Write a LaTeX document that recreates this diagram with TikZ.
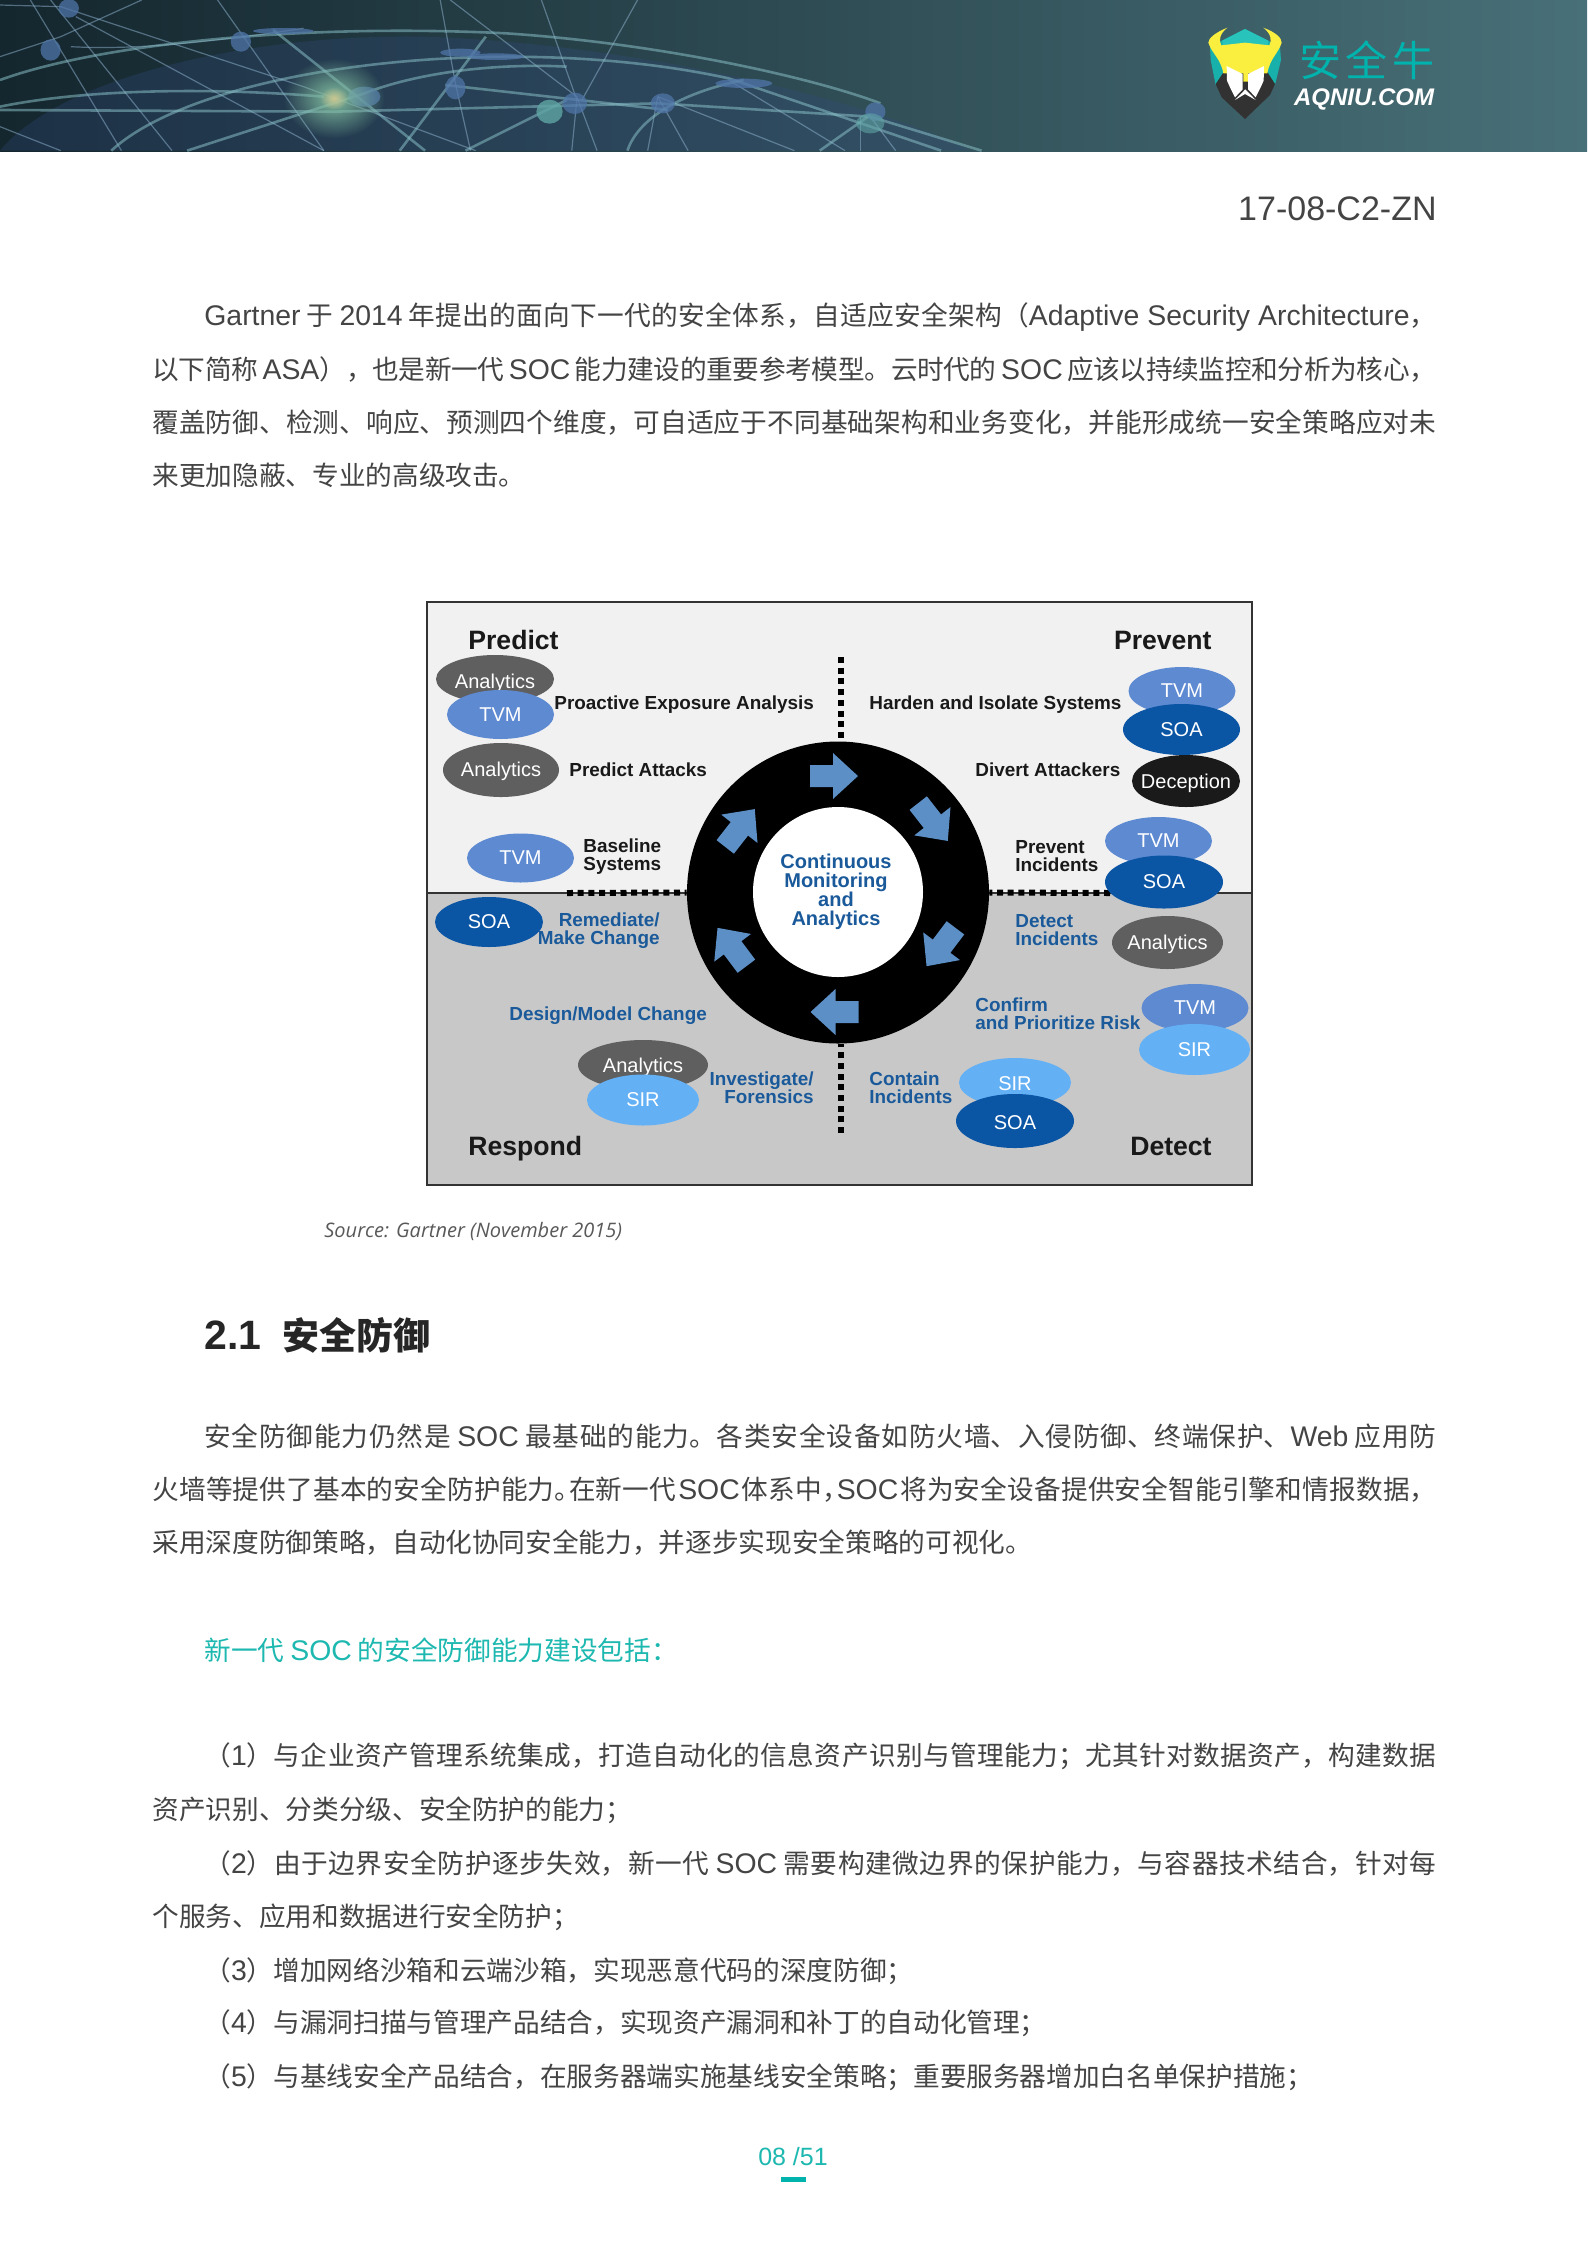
\documentclass[tikz,border=0pt]{standalone}
\usepackage{fontspec}
\usetikzlibrary{shapes.geometric,fadings}
\setmainfont{Liberation Sans}
\newfontfamily\cjk{Noto Sans CJK SC}
\newfontfamily\capfont{Open Sans}
\XeTeXlinebreaklocale "zh"
\XeTeXlinebreakskip=0pt plus 3pt minus 0.25pt\relax
\tikzfading[name=glowfade,inner color=transparent!0,outer color=transparent!100]
\definecolor{bodyc}{HTML}{444444}
\definecolor{tealc}{HTML}{1DB8B0}
\definecolor{logoteal}{HTML}{00B3AD}
\definecolor{cAna}{HTML}{5F5F5F}
\definecolor{cTvm}{HTML}{5E8AD2}
\definecolor{cSoa}{HTML}{0B55A5}
\definecolor{cSir}{HTML}{63B0F5}
\definecolor{cDec}{HTML}{1A1A1A}
\definecolor{lblue}{HTML}{1A5A9A}
\definecolor{cArrow}{HTML}{5B8FC6}
\definecolor{netc}{HTML}{8FB4D0}
\definecolor{netd}{HTML}{86BCC4}
\definecolor{netdotc}{HTML}{4F75A8}
\definecolor{banL}{HTML}{14262E}
\definecolor{banM}{HTML}{385064}
\definecolor{banR}{HTML}{487078}
\definecolor{dome}{HTML}{324B7D}
\definecolor{nodeT}{HTML}{5FA5A5}
\definecolor{glowA}{HTML}{82BEA0}
\definecolor{glowB}{HTML}{DCC88C}
\definecolor{lgA}{HTML}{18B0AA}
\definecolor{lgB}{HTML}{28C4BC}
\definecolor{lgC}{HTML}{323232}
\definecolor{lgD}{HTML}{FAEE3E}
\definecolor{upper}{HTML}{F1F1F1}
\definecolor{lower}{HTML}{C8C8C8}
\definecolor{frameC}{HTML}{333333}
\newcommand\la[1]{{\normalfont\fontsize{14.2pt}{20pt}\selectfont #1}}
\newcommand\lab[1]{{\normalfont\bfseries\fontsize{20.5pt}{22pt}\selectfont #1}}
\newcommand\zhc{^^^^ff0c}
\newcommand\zhs{^^^^ff1b}
\newcommand\zhl{^^^^ff08}
\newcommand\zhr{^^^^ff09}
\newcommand\zhk{^^^^ff1a}
\tikzset{
  bodyline/.style={anchor=base west,inner sep=0pt,text=bodyc,font=\fontsize{13.33pt}{20pt}\selectfont\cjk},
  bub/.style={ellipse,inner sep=0pt},
  bubtxt/.style={inner sep=0pt,text=white,font=\fontsize{10pt}{10pt}\selectfont},
  blk/.style={anchor=west,inner sep=0pt,align=left,text=black!90,font=\fontsize{9.45pt}{9pt}\selectfont\bfseries},
  blu/.style={anchor=west,inner sep=0pt,align=left,text=lblue,font=\fontsize{9.45pt}{9pt}\selectfont\bfseries},
  ttl/.style={anchor=west,inner sep=0pt,text=black!90,font=\fontsize{13.3pt}{14pt}\selectfont\bfseries},
  dotline/.style={line width=3pt,dash pattern=on 3pt off 2.35pt,black},
  ringarrow/.style={fill=cArrow},
  netl/.style={draw=netc,opacity=.5,line width=.6pt},
  netb/.style={draw=netd,opacity=.55,line width=1.3pt},
  netdot/.style={fill=netdotc,opacity=.75}
}
\newcommand\jline[5]{\node[bodyline] (#1) at (#2,#3) {\parbox[b]{\dimexpr #4pt/2\relax}{\parindent=0pt\parfillskip=0pt\rightskip=0pt\leftskip=0pt\emergencystretch=20pt\noindent #5}};}
\newcommand\tline[4]{\node[bodyline] (#1) at (#2,#3) {#4};}
\newcommand\bub[8][0pt]{\node[bub,fill=#7,minimum width=#5pt,minimum height=#6pt,label={[bubtxt,yshift=#1]center:{#8}}] (#2) at (#3,#4) {};}
\newcommand\ringarr[3]{\fill[ringarrow,shift={(#1,#2)},rotate=#3] (-24,-11) -- (-1,-11) -- (-1,-23) -- (24,0) -- (-1,23) -- (-1,11) -- (-24,11) -- cycle;}
\begin{document}
\begin{tikzpicture}[x=0.5pt,y=-0.5pt]
\useasboundingbox (0,0) rectangle (1587,2245);
\fill[white] (0,0) rectangle (1587,2245);
% ---------- banner
\shade[left color=banL,middle color=banM,right color=banR] (0,0) rectangle (1587,151);
\begin{scope}
\clip (0,0) rectangle (1587,151);
\begin{scope}[xscale=1.012,yscale=0.3333]
\fill[dome,opacity=.3] (0,452) .. controls (60,230) and (250,100) .. (420,110) .. controls (620,130) and (850,290) .. (960,452) -- cycle;
\draw[netl] (50,0) -- (170,452);
\draw[netl] (75,50) -- (320,452);
\draw[netl] (0,15) -- (60,20) -- (300,260) -- (470,452);
\draw[netl] (215,0) -- (320,452);
\draw[netl] (435,0) -- (450,250) -- (465,452);
\draw[netl] (445,0) -- (570,290) -- (590,452);
\draw[netl] (535,0) -- (570,300) -- (565,452);
\draw[netl] (630,0) -- (575,300);
\draw[netl] (140,0) -- (60,110) -- (0,170);
\draw[netl] (30,0) -- (120,452);
\draw[netl] (0,380) -- (60,452);
\draw[netl] (650,290) -- (640,452);
\draw[netl] (650,290) -- (680,452);
\draw[netl] (650,290) -- (785,452);
\draw[netl] (720,240) -- (835,452);
\draw[netl] (850,350) -- (850,452);
\draw[netl] (860,350) -- (885,452);
\draw[netl] (70,140) .. controls (130,150) and (200,130) .. (300,85);
\draw[netb] (480,110) -- (395,452);
\draw[netb] (270,90) -- (420,452);
\draw[netb] (0,330) -- (330,335) -- (650,310) -- (860,350) -- (970,452);
\draw[netb] (0,320) .. controls (80,270) and (200,260) .. (320,290);
\draw[netb] (0,240) .. controls (100,130) and (300,70) .. (500,100) .. controls (650,130) and (800,230) .. (870,310);
\draw[netb] (110,452) .. controls (200,200) and (500,90) .. (720,235) -- (930,452);
\draw[netb] (620,452) .. controls (630,360) and (670,280) .. (735,240);
\draw[netb] (185,452) -- (360,280) .. controls (420,210) and (500,190) .. (560,200);
\draw[netb] (460,452) -- (560,300);
\draw[netb] (810,452) -- (860,345);
\draw[netb] (440,255) -- (660,330);
\fill[netdot] (68,25) ellipse (10 and 28);
\fill[netdot] (50,150) ellipse (10 and 32);
\fill[netdot] (238,125) ellipse (10 and 30);
\fill[netdot] (455,158) ellipse (20 and 12);
\fill[netdot] (490,170) ellipse (28 and 10);
\fill[netdot] (280,93) ellipse (30 and 9);
\fill[netdot] (450,263) ellipse (10 and 35);
\fill[netdot] (568,310) ellipse (12 and 32);
\fill[netdot] (655,310) ellipse (12 and 30);
\fill[netdot] (865,335) ellipse (10 and 28);
\fill[netdot] (735,250) ellipse (28 and 14);
\fill[netdot] (360,290) ellipse (16 and 30);
\fill[nodeT,opacity=.8] (543,335) ellipse (13 and 36);
\fill[nodeT,opacity=.6] (860,370) ellipse (14 and 30);
\fill[glowA,path fading=glowfade] (330,295) ellipse (50 and 120);
\fill[glowB,path fading=glowfade,opacity=.8] (330,295) ellipse (14 and 34);
\end{scope}
\end{scope}
% ---------- logo
\begin{scope}[shift={(1180,10)},xscale=1/3,yscale=1/3]
\fill[lgA] (90,110) -- (195,57) -- (300,110) -- (303,150) -- (285,225) -- (107,225) -- (92,150) -- cycle;
\fill[lgB] (195,57) -- (265,92) -- (262,125) -- (195,98) -- (130,125) -- (127,92) -- cycle;
\fill[lgC] (107,222) -- (135,180) -- (258,180) -- (285,222) -- (270,255) -- (195,327) -- (125,262) -- cycle;
\fill[lgD] (142,53) .. controls (118,72) and (116,92) .. (124,106) -- (195,98) -- (268,106) .. controls (276,92) and (274,72) .. (250,53) .. controls (290,68) and (305,85) .. (305,98) .. controls (295,130) and (270,145) .. (262,190) -- (204,190) -- (204,215) -- (190,215) -- (190,190) -- (130,190) .. controls (122,145) and (95,130) .. (85,98) .. controls (85,85) and (105,68) .. (142,53) -- cycle;
\fill[white] (140,168) -- (188,192) -- (188,238) -- (165,262) -- (150,232) -- (141,212) -- cycle;
\fill[white] (252,168) -- (204,192) -- (204,238) -- (227,262) -- (242,232) -- (251,212) -- cycle;
\fill[white] (196,238) -- (165,270) -- (195,252) -- (227,270) -- cycle;
\end{scope}
\node[inner sep=0pt,text=logoteal,font=\fontsize{21pt}{22pt}\selectfont\cjk] (logocn) at (1367,60) {安\hspace{2.4pt}全\hspace{2.4pt}牛};
\node[inner sep=0pt,text=white,font=\fontsize{12pt}{12pt}\selectfont\bfseries\itshape] (logoen) at (1364,99) {AQNIU.COM};
\node[anchor=east,inner sep=0pt,text=bodyc,font=\fontsize{17pt}{18pt}\selectfont] (docid) at (1437,209) {17-08-C2-ZN};
% ---------- first paragraph
\jline{p1a}{204}{325.5}{1232}{\la{Gartner} 于 \la{2014} 年提出的面向下一代的安全体系\zhc{}自适应安全架构\zhl{}\la{Adaptive Security Architecture}\zhc{}}
\jline{p1b}{152}{379.5}{1284}{以下简称 \la{ASA}\zhr{}\zhc{}也是新一代 \la{SOC} 能力建设的重要参考模型。云时代的 \la{SOC} 应该以持续监控和分析为核心\zhc{}}
\jline{p1c}{152}{432}{1284}{覆盖防御、检测、响应、预测四个维度\zhc{}可自适应于不同基础架构和业务变化\zhc{}并能形成统一安全策略应对未}
\tline{p1d}{152}{485}{来更加隐蔽、专业的高级攻击。}
% ---------- diagram
\fill[upper] (427,602) rectangle (1252,893);
\fill[lower] (427,893) rectangle (1252,1185);
\draw[frameC,line width=1pt] (427,893) -- (1252,893);
\draw[frameC,line width=1.1pt] (427,602) rectangle (1252,1185);
\coordinate (vt) at (841,657);
\coordinate (vb) at (841,1133);
\coordinate (hl) at (567,893);
\coordinate (hr) at (1110,893);
\node[circle,fill=black,inner sep=0pt,minimum size=151pt] (ring) at (838,892.5) {};
\draw[dotline] (vt) -- (841,741);
\draw[dotline] (vb) -- (841,1044);
\draw[dotline] (hl) -- (ring.west);
\draw[dotline] (hr) -- (ring.east);
\node[circle,fill=white,inner sep=0pt,minimum size=85pt] (hub) at (838,892) {};
\node[inner sep=0pt,align=center,text=lblue,font=\fontsize{10pt}{9.55pt}\selectfont\bfseries] (hubtext) at (836,892) {Continuous\\Monitoring\\and\\Analytics};
\ringarr{834}{776}{0}
\ringarr{933}{822}{-52}
\ringarr{941}{947}{-127}
\ringarr{834.5}{1012}{180}
\ringarr{732}{947}{127}
\ringarr{740}{828}{52}
\bub[-2.1pt]{anaA}{495}{679}{59}{24}{cAna}{Analytics}
\bub{tvmA}{500.5}{714.5}{53.5}{24.5}{cTvm}{TVM}
\bub[-.7pt]{anaB}{501}{770}{58}{27}{cAna}{Analytics}
\bub{tvmB}{520.5}{858}{53.5}{24.5}{cTvm}{TVM}
\bub{tvmC}{1182}{691}{53.5}{24}{cTvm}{TVM}
\bub{soaC}{1181.5}{729.5}{58.5}{25.5}{cSoa}{SOA}
\bub[-1pt]{decC}{1186}{781}{54}{26}{cDec}{Deception}
\bub{tvmD}{1158.5}{841}{53.5}{24}{cTvm}{TVM}
\bub{soaD}{1164}{882}{59}{26.5}{cSoa}{SOA}
\bub{soaE}{489}{922}{54}{25}{cSoa}{SOA}
\bub[-1.4pt]{anaF}{643}{1065}{65}{25}{cAna}{Analytics}
\bub{sirF}{643}{1100}{56}{25.5}{cSir}{SIR}
\bub[-.7pt]{anaG}{1167.5}{942.5}{55.5}{26.5}{cAna}{Analytics}
\bub{tvmH}{1195}{1008}{53.5}{24}{cTvm}{TVM}
\bub{sirH}{1194.5}{1049.5}{55.5}{25.5}{cSir}{SIR}
\bub[-.7pt]{sirI}{1015}{1082.5}{56}{24.5}{cSir}{SIR}
\bub[-.7pt]{soaI}{1015}{1121}{59}{27}{cSoa}{SOA}
\node[ttl] (tPredict) at (468,640) {Predict};
\node[ttl,anchor=east] (tPrevent) at (1212,640) {Prevent};
\node[ttl] (tRespond) at (468,1148.5) {Respond};
\node[ttl,anchor=east] (tDetect) at (1212,1146) {Detect};
\node[blk] (lProact) at (554,705) {Proactive Exposure Analysis};
\node[blk] (lPredict) at (569,770) {Predict Attacks};
\node[blk] (lBase) at (583,857) {Baseline\\Systems};
\node[blk] (lHarden) at (869,705) {Harden and Isolate Systems};
\node[blk] (lDivert) at (975,770) {Divert Attackers};
\node[blk] (lPrevInc) at (1015,856) {Prevent\\Incidents};
\node[blu,anchor=east,align=right] (lRemed) at (660,931) {Remediate/\\Make Change};
\node[blu] (lDesign) at (509,1016) {Design/Model Change};
\node[blu,anchor=east,align=right] (lInvest) at (814,1088) {Investigate/\\Forensics};
\node[blu] (lDetInc) at (1015,930) {Detect\\Incidents};
\node[blu] (lConfirm) at (975,1013.5) {Confirm\\and Prioritize Risk};
\node[blu] (lContain) at (869,1088) {Contain\\Incidents};
\node[anchor=west,inner sep=0pt,text=black!65,font=\fontsize{10pt}{11pt}\selectfont\capfont\itshape] (caption) at (324,1231) {Source: Gartner (November 2015)};
% ---------- section
\node[bodyline,text=black!85,font=\fontsize{18.5pt}{22pt}\selectfont\cjk\bfseries] (head) at (204,1349) {\lab{2.1}\hspace{10.5pt}安全防御};
\jline{p2a}{204}{1446.5}{1232}{安全防御能力仍然是 \la{SOC} 最基础的能力。各类安全设备如防火墙、入侵防御、终端保护、\la{Web} 应用防}
\jline{p2b}{152}{1499.5}{1284}{火墙等提供了基本的安全防护能力。\hspace{-6pt}在新一代\hspace{1pt}\la{SOC}\hspace{1pt}体系中\zhc{}\hspace{-6pt}\la{SOC}\hspace{1pt}将为安全设备提供安全智能引擎和情报数据\zhc{}}
\tline{p2c}{152}{1552.5}{采用深度防御策略\zhc{}自动化协同安全能力\zhc{}并逐步实现安全策略的可视化。}
\node[bodyline,text=tealc] (lead) at (204,1660) {新一代 \la{SOC} 的安全防御能力建设包括\zhk{}};
\jline{l1a}{204}{1765}{1232}{\zhl{}\la{1}\zhr{}与企业资产管理系统集成\zhc{}打造自动化的信息资产识别与管理能力\zhs{}尤其针对数据资产\zhc{}构建数据}
\tline{l1b}{152}{1819}{资产识别、分类分级、安全防护的能力\zhs{}}
\jline{l2a}{204}{1873}{1232}{\zhl{}\la{2}\zhr{}由于边界安全防护逐步失效\zhc{}新一代 \la{SOC} 需要构建微边界的保护能力\zhc{}与容器技术结合\zhc{}针对每}
\tline{l2b}{152}{1926}{个服务、应用和数据进行安全防护\zhs{}}
\tline{l3}{204}{1980}{\zhl{}\la{3}\zhr{}增加网络沙箱和云端沙箱\zhc{}实现恶意代码的深度防御\zhs{}}
\tline{l4}{204}{2032}{\zhl{}\la{4}\zhr{}与漏洞扫描与管理产品结合\zhc{}实现资产漏洞和补丁的自动化管理\zhs{}}
\tline{l5}{204}{2086}{\zhl{}\la{5}\zhr{}与基线安全产品结合\zhc{}在服务器端实施基线安全策略\zhs{}重要服务器增加白名单保护措施\zhs{}}
\node[inner sep=0pt,text=tealc,font=\fontsize{12.5pt}{14pt}\selectfont] (pageno) at (793,2157) {08 /51};
\fill[logoteal] (781,2177) rectangle (806,2182);
\end{tikzpicture}
\end{document}
